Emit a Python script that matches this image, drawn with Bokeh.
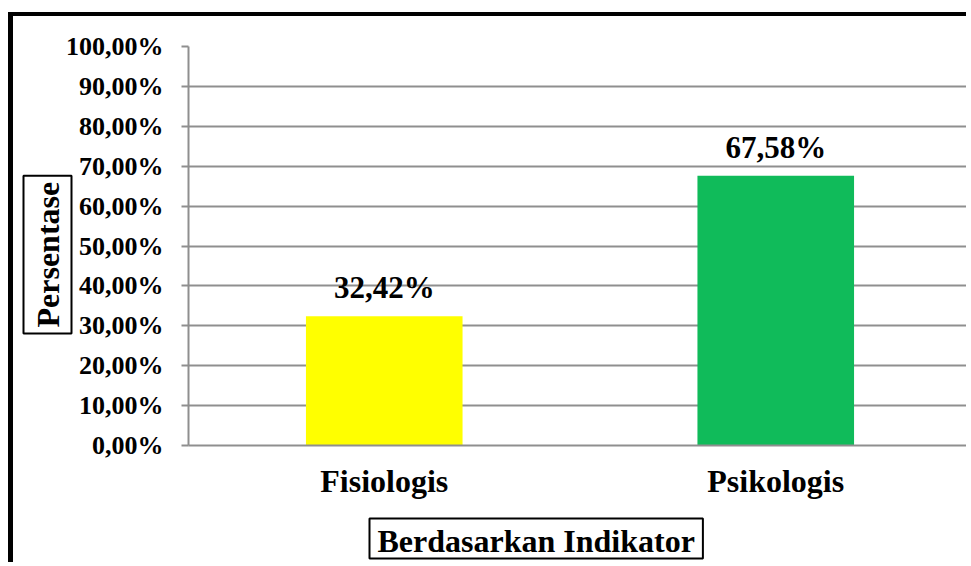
from bokeh.plotting import figure
from bokeh.models import (ColumnDataSource, FactorRange, Range1d, FixedTicker,
                          LabelSet, Title)
from bokeh.embed import file_html
from bokeh.resources import INLINE

# ---- data ----
categories = ["Fisiologis", "Psikologis"]
values = [32.42, 67.58]
value_labels = ["32,42%", "67,58%"]
colors = ["#FFFF00", "#10BB5A"]
y_ticks = [0, 10, 20, 30, 40, 50, 60, 70, 80, 90, 100]
y_tick_labels = ["0,00%", "10,00%", "20,00%", "30,00%", "40,00%", "50,00%",
                 "60,00%", "70,00%", "80,00%", "90,00%", "100,00%"]
y_title = "Persentase"
x_title = "Berdasarkan Indikator"

FONT = "Liberation Serif"

src = ColumnDataSource(dict(cat=categories, val=values, lab=value_labels, col=colors))

p = figure(x_range=FactorRange(*categories, range_padding=0),
           y_range=Range1d(0, 100),
           width=958, height=550,
           output_backend="svg", toolbar_location=None,
           min_border_left=175, min_border_top=30, min_border_right=0,
           min_border_bottom=121)
p.styles = {"border-left": "5px solid black", "border-top": "4px solid black",
            "margin-left": "8px", "margin-top": "12px"}

p.vbar(x="cat", top="val", width=0.4, fill_color="col", line_color=None, source=src)

p.add_layout(LabelSet(x="cat", y="val", text="lab", source=src, y_offset=18,
                      text_align="center", text_baseline="alphabetic",
                      text_font=FONT, text_font_style="bold",
                      text_font_size="31px", text_color="black"))

p.outline_line_color = None
p.background_fill_color = "white"
p.border_fill_color = "white"

# grids
p.xgrid.grid_line_color = None
p.ygrid.grid_line_color = "#8f8f8f"
p.ygrid.grid_line_width = 2

# y axis
ya = p.yaxis[0]
ya.ticker = FixedTicker(ticks=y_ticks)
ya.major_label_overrides = {t: l for t, l in zip(y_ticks, y_tick_labels)}
ya.major_label_text_font = FONT
ya.major_label_text_font_style = "bold"
ya.major_label_text_font_size = "26px"
ya.major_label_text_color = "black"
ya.axis_line_color = "#8f8f8f"
ya.axis_line_width = 2
ya.major_tick_line_color = "#8f8f8f"
ya.major_tick_line_width = 2
ya.major_tick_in = 0
ya.major_tick_out = 7
ya.minor_tick_line_color = None
ya.major_label_standoff = 18

# x axis
xa = p.xaxis[0]
xa.major_label_text_font = FONT
xa.major_label_text_font_style = "bold"
xa.major_label_text_font_size = "32px"
xa.major_label_text_color = "black"
xa.axis_line_color = "#8f8f8f"
xa.axis_line_width = 2
xa.major_tick_line_color = None
xa.major_tick_out = 0
xa.major_tick_in = 0
xa.minor_tick_line_color = None
xa.major_label_standoff = 17
# blank axis label used only as vertical spacing above the boxed title
xa.axis_label = "\u00a0"
xa.axis_label_standoff = 0
xa.axis_label_text_font_size = "11px"

# axis titles with boxes
p.add_layout(Title(text=y_title, align="left", offset=112,
                   text_font=FONT, text_font_style="bold", text_font_size="32px",
                   text_color="black", border_line_color="black", border_line_width=2,
                   padding=6, standoff=-18), "left")
p.add_layout(Title(text=x_title, align="left", offset=181,
                   text_font=FONT, text_font_style="bold", text_font_size="32px",
                   text_color="black", border_line_color="black", border_line_width=2,
                   padding=dict(left=8, right=8, top=4, bottom=0), standoff=0), "below")

open("out.html", "w").write(file_html(p, INLINE))
